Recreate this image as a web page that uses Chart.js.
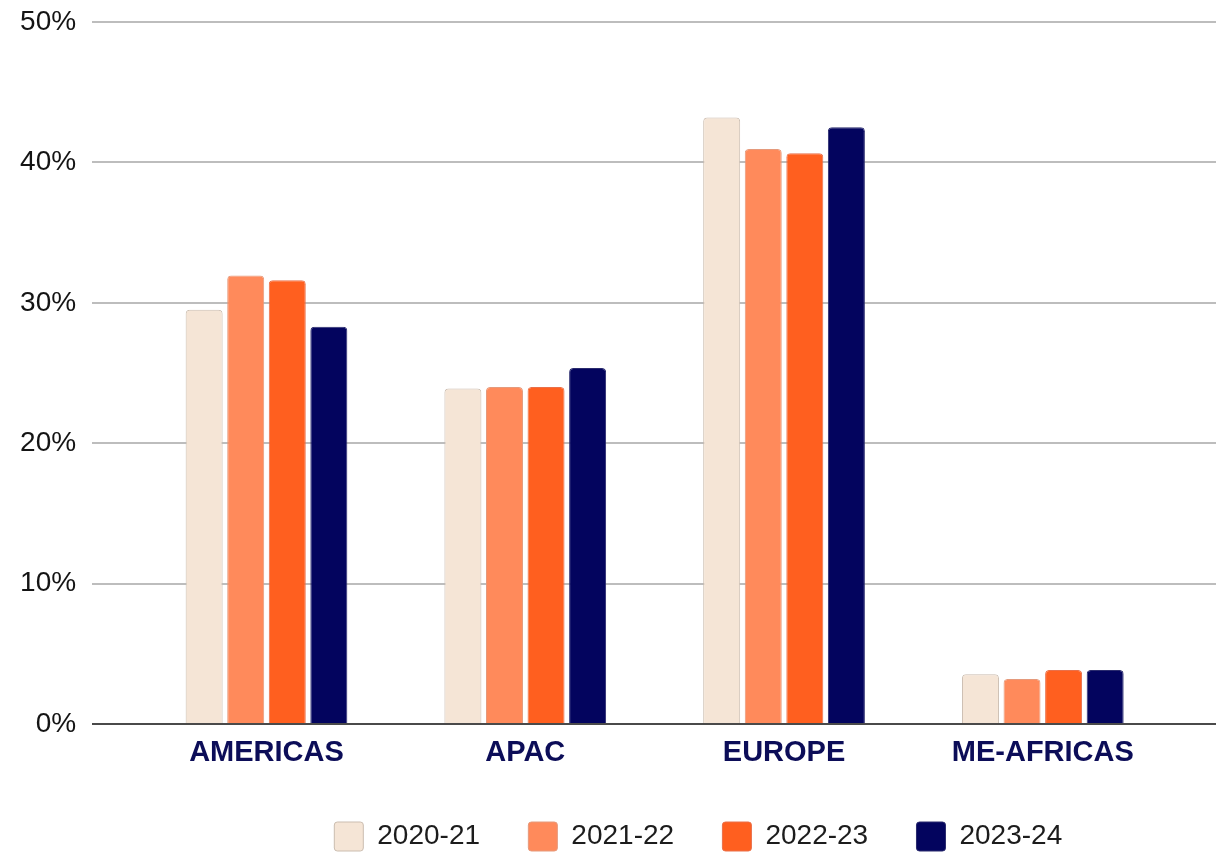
<!DOCTYPE html>
<html>
<head>
<meta charset="utf-8">
<script src="https://cdn.jsdelivr.net/npm/chart.js@4/dist/chart.umd.min.js"></script>
<style>
  html, body { margin: 0; padding: 0; background: #ffffff; }
  #wrap { width: 1216px; height: 853px; position: relative; }
</style>
</head>
<body>
<div id="wrap"><canvas id="chart"></canvas></div>
<script>
// Regional share by fiscal year
const regions = ['AMERICAS', 'APAC', 'EUROPE', 'ME-AFRICAS'];
const fy2020_21 = [29.5, 23.9, 43.2, 3.55];
const fy2021_22 = [31.95, 24.0, 40.95, 3.2];
const fy2022_23 = [31.6, 24.0, 40.65, 3.85];
const fy2023_24 = [28.3, 25.35, 42.5, 3.85];
const seriesNames = ['2020-21', '2021-22', '2022-23', '2023-24'];
const yTicks = [0, 10, 20, 30, 40, 50];

const fills = ['#f5e5d6', '#ff8a5b', '#ff5f1f', '#03045e'];
const edges = ['#cbbdb0', '#e59a7c', '#e9704a', '#2a2b6e'];

// Horizontal rules that run the full width of the canvas, behind the bars
const fullWidthGrid = {
  id: 'fullWidthGrid',
  beforeDatasetsDraw(chart, args, opts) {
    const { ctx } = chart;
    const y = chart.scales.y;
    ctx.save();
    yTicks.forEach(v => {
      const py = Math.round(y.getPixelForValue(v));
      ctx.beginPath();
      ctx.moveTo(opts.left, py);
      ctx.lineTo(chart.width, py);
      ctx.strokeStyle = v === 0 ? '#4a4a4a' : '#bdbdbd';
      ctx.lineWidth = 2;
      ctx.stroke();
    });
    ctx.restore();
  },
  afterDatasetsDraw(chart, args, opts) {
    // keep the baseline crisp on top of bar edges
    const { ctx } = chart;
    const py = Math.round(chart.scales.y.getPixelForValue(0));
    ctx.save();
    ctx.beginPath();
    ctx.moveTo(opts.left, py);
    ctx.lineTo(chart.width, py);
    ctx.strokeStyle = '#4a4a4a';
    ctx.lineWidth = 2;
    ctx.stroke();
    ctx.restore();
  }
};

// Nudge the legend row into place under the plot
const legendShift = {
  id: 'legendShift',
  afterLayout(chart, args, opts) {
    const lg = chart.legend;
    if (!lg) return;
    lg.left += opts.dx; lg.right += opts.dx;
    lg.top += opts.dy; lg.bottom += opts.dy;
  }
};

const seriesData = [fy2020_21, fy2021_22, fy2022_23, fy2023_24];

new Chart(document.getElementById('chart'), {
  type: 'bar',
  data: {
    labels: regions,
    datasets: seriesNames.map((name, i) => ({
      label: name,
      data: seriesData[i],
      backgroundColor: fills[i],
      borderColor: edges[i],
      borderWidth: 1,
      borderRadius: 4,
      borderSkipped: 'bottom',
      categoryPercentage: 0.6425,
      barPercentage: 0.89
    }))
  },
  options: {
    responsive: true,
    maintainAspectRatio: false,
    animation: false,
    layout: { padding: { top: 22, right: 43.8, bottom: 0, left: 0 } },
    scales: {
      x: {
        afterFit(scale) {
          scale.height = 41.7;
          scale.paddingLeft = 0; scale.paddingRight = 0;
        },
        grid: { display: false, drawTicks: false },
        border: { display: false },
        ticks: {
          padding: 13,
          color: '#0c0d58',
          font: { family: '"Liberation Sans", Arial, sans-serif', size: 29, weight: 'bold', lineHeight: 1.1 }
        }
      },
      y: {
        min: 0,
        max: 50,
        afterFit(scale) {
          scale.width = 137.1;
          scale.paddingTop = 0; scale.paddingBottom = 0;
        },
        grid: { display: false, drawTicks: false },
        border: { display: false },
        ticks: {
          stepSize: 10,
          padding: 61,
          color: '#141414',
          font: { family: '"Liberation Sans", Arial, sans-serif', size: 28 },
          callback: v => v + '%'
        }
      }
    },
    plugins: {
      fullWidthGrid: { left: 92 },
      legendShift: { dx: 286, dy: 8 },
      tooltip: { enabled: false },
      legend: {
        position: 'bottom',
        align: 'start',
        labels: {
          boxWidth: 29,
          boxHeight: 29,
          padding: 48.3,
          useBorderRadius: true,
          borderRadius: 3,
          color: '#1c1c1c',
          font: { family: '"Liberation Sans", Arial, sans-serif', size: 28 }
        }
      }
    }
  },
  plugins: [fullWidthGrid, legendShift]
});
</script>
</body>
</html>
